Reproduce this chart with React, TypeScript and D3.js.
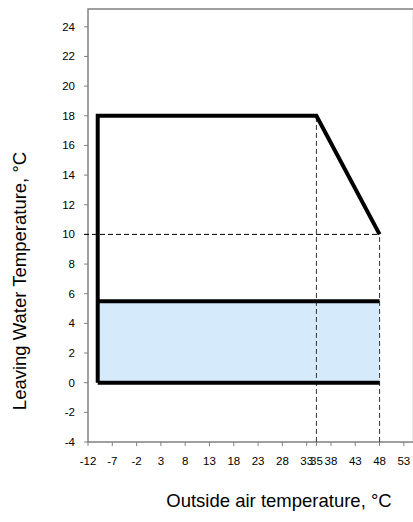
import React from "react";
import * as d3 from "d3";

const xTicks = [-12, -7, -2, 3, 8, 13, 18, 23, 28, 33, 35, 38, 43, 48, 53];
const yTicks = [-4, -2, 0, 2, 4, 6, 8, 10, 12, 14, 16, 18, 20, 22, 24];
const xDomain = [-12, 55];
const yDomain = [-4, 25.2];
// operating envelope outline
const envelope: [number, number][] = [
  [-10, 0],
  [-10, 18],
  [35, 18],
  [48, 10],
];
const bandX = [-10, 48];
const bandY = [0, 5.5];
const refH = { y: 10, x0: -12, x1: 48 };
const refV = [
  { x: 35, y0: -4, y1: 18 },
  { x: 48, y0: -4, y1: 10 },
];

const W = 413;
const H = 522;
const font = "'Liberation Sans', Arial, Helvetica, sans-serif";

export default function App() {
  const x = d3.scaleLinear().domain(xDomain).range([88, 413.6]);
  const y = d3.scaleLinear().domain(yDomain).range([442, 9]);
  const line = d3
    .line<[number, number]>()
    .x((d) => x(d[0]))
    .y((d) => y(d[1]));

  return (
    <div style={{ position: "absolute", left: 0, top: 0 }}>
      <svg width={W} height={H} style={{ display: "block", background: "#fff" }}>
        {/* blue band */}
        <rect
          x={x(bandX[0])}
          y={y(bandY[1])}
          width={x(bandX[1]) - x(bandX[0])}
          height={y(bandY[0]) - y(bandY[1])}
          fill="#d5eafa"
        />
        {/* frame */}
        <rect
          x={x(xDomain[0])}
          y={y(yDomain[1])}
          width={x(xDomain[1]) - x(xDomain[0])}
          height={y(yDomain[0]) - y(yDomain[1])}
          fill="none"
          stroke="#808080"
          strokeWidth={1.5}
        />
        {/* y ticks */}
        {yTicks.map((t) => (
          <g key={"y" + t}>
            <line x1={x(xDomain[0]) - 4} x2={x(xDomain[0])} y1={y(t)} y2={y(t)} stroke="#808080" strokeWidth={1} />
            <text x={75} y={y(t)} dy="0.35em" textAnchor="end" fontFamily={font} fontSize={11.5} fill="#000">
              {t}
            </text>
          </g>
        ))}
        {/* x ticks */}
        {xTicks.map((t) => (
          <g key={"x" + t}>
            <line x1={x(t)} x2={x(t)} y1={y(yDomain[0])} y2={y(yDomain[0]) + 4} stroke="#808080" strokeWidth={1} />
            <text x={x(t)} y={465} textAnchor="middle" fontFamily={font} fontSize={11.5} fill="#000">
              {t}
            </text>
          </g>
        ))}
        {/* dashed reference lines */}
        <line
          x1={x(refH.x0) - 4}
          x2={x(refH.x1)}
          y1={y(refH.y)}
          y2={y(refH.y)}
          stroke="#000"
          strokeWidth={1}
          strokeDasharray="5,3"
        />
        {refV.map((r, i) => (
          <line
            key={"v" + i}
            x1={x(r.x)}
            x2={x(r.x)}
            y1={y(r.y0)}
            y2={y(r.y1)}
            stroke="#333"
            strokeWidth={1}
            strokeDasharray="5,3"
          />
        ))}
        {/* thick outline */}
        <path d={line(envelope) || ""} fill="none" stroke="#000" strokeWidth={4} strokeLinejoin="miter" />
        <line x1={x(bandX[0])} x2={x(bandX[1])} y1={y(bandY[0])} y2={y(bandY[0])} stroke="#000" strokeWidth={4} />
        <line x1={x(bandX[0])} x2={x(bandX[1])} y1={y(bandY[1])} y2={y(bandY[1])} stroke="#000" strokeWidth={4} />
        {/* axis titles */}
        <text
          transform={`translate(26,281) rotate(-90)`}
          textAnchor="middle"
          fontFamily={font}
          fontSize={18.5}
          fill="#000"
        >
          Leaving Water Temperature, °C
        </text>
        <text x={279} y={507} textAnchor="middle" fontFamily={font} fontSize={18.5} fill="#000">
          Outside air temperature, °C
        </text>
      </svg>
    </div>
  );
}
